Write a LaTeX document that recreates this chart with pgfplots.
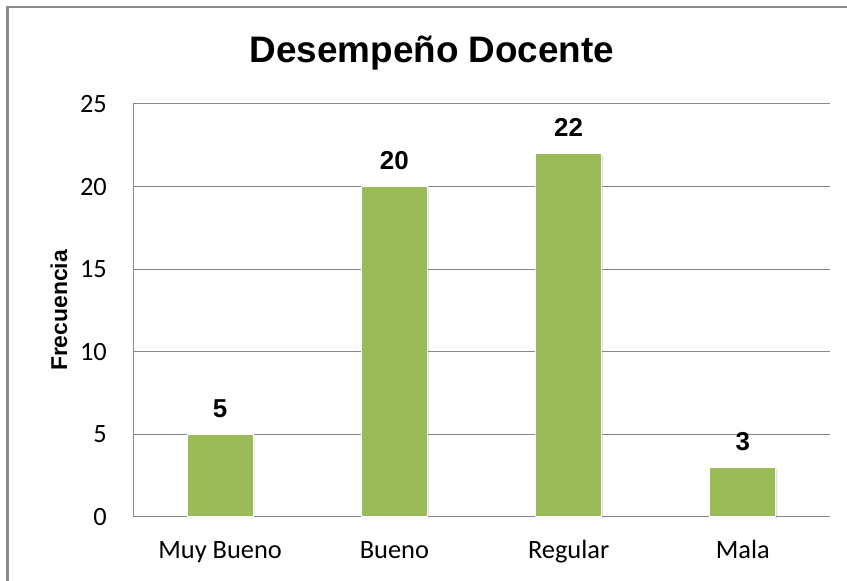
\documentclass[border=0pt]{standalone}
\usepackage{pgfplots}
\pgfplotsset{compat=1.18}
\usepackage{fontspec}
\setmainfont{Carlito}
\newfontfamily\arialf{Liberation Sans}
\definecolor{barg}{HTML}{9BBB59}
\definecolor{gridg}{HTML}{868686}
\definecolor{frameg}{HTML}{8C8C8C}
\begin{document}
\begin{tikzpicture}[x=1bp,y=1bp]
\useasboundingbox (0,0) rectangle (847,581);
\draw[color=frameg, line width=2.5bp] (7.5,-5) -- (7.5,573.8) -- (852,573.8);
\node[font=\arialf\bfseries\fontsize{37}{40}\selectfont, anchor=base] at (432,518) {Desempeño Docente};
\begin{axis}[
  at={(133bp,64bp)}, anchor=south west,
  scale only axis, width=697bp, height=413bp,
  xmin=-0.5, xmax=3.5, ymin=0, ymax=25,
  ytick={0,5,10,15,20,25},
  xtick={0,1,2,3},
  xticklabels={Muy Bueno, Bueno, Regular, Mala},
  axis lines=left,
  axis line style={-, draw=gridg, line width=1bp},
  ymajorgrids,
  major grid style={draw=gridg, line width=1bp},
  major tick length=0pt,
  /pgf/number format/assume math mode=true,
  ticklabel style={font=\fontsize{26.5}{28}\selectfont, inner sep=0pt},
  yticklabel style={xshift=-26bp},
  xticklabel style={anchor=base, yshift=-42bp},
  ylabel={Frecuencia},
  ylabel style={at={(axis description cs:-0.1062,0.5)}, anchor=center, font=\arialf\bfseries\fontsize{23}{25}\selectfont},
  ybar, bar width=66bp, bar shift=0pt,
  nodes near coords,
  every node near coord/.append style={font=\arialf\bfseries\fontsize{26}{28}\selectfont, anchor=south, inner sep=0pt, yshift=16bp, black},
  clip=false,
]
\addplot[fill=barg, draw=white, line width=1.2bp,
  preaction={fill=black, opacity=0.12, transform canvas={xshift=1.5bp, yshift=-1.5bp}}]
  coordinates {(0,5) (1,20) (2,22) (3,3)};
\end{axis}
\end{tikzpicture}
\end{document}
